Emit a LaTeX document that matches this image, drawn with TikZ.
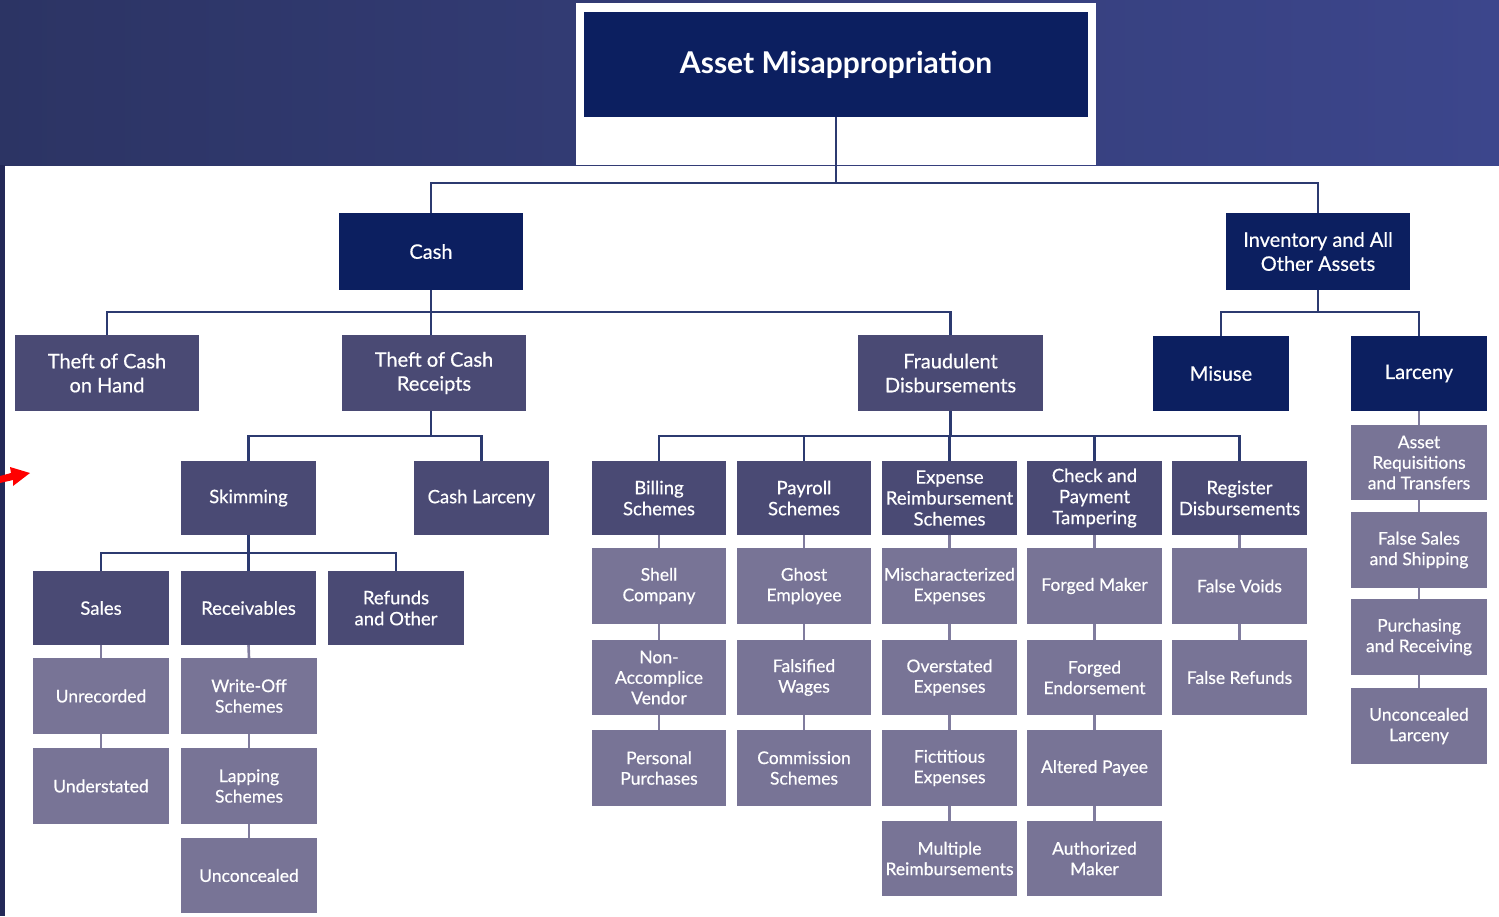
\documentclass[tikz,border=0pt]{standalone}
\usepackage{fontspec}
\setmainfont{Lato}
\newfontfamily\medfont{Lato}[FakeBold=0.5]
\definecolor{navybox}{RGB}{12,31,96}
\definecolor{midbox}{RGB}{74,74,116}
\definecolor{leafbox}{RGB}{120,116,150}
\definecolor{linecol}{RGB}{44,58,112}
\definecolor{leafline}{RGB}{128,124,158}
\definecolor{bandL}{RGB}{44,52,100}
\definecolor{bandR}{RGB}{60,70,140}
\definecolor{strip}{RGB}{35,41,88}
\newcommand\bx[7]{\node[#2, minimum width={(#5-#3)*1pt}, minimum height={(#6-#4)*1pt}] (#1) at ({(#3+#5)/2},{(#4+#6)/2}) {#7};}
\begin{document}
\begin{tikzpicture}[x=1pt,y=-1pt,
  boxbase/.style={rectangle, inner sep=0pt, align=center, text=white},
  topbox/.style={boxbase, fill=navybox, font=\fontsize{30}{34}\selectfont\bfseries},
  navy/.style={boxbase, fill=navybox, font=\medfont\fontsize{20}{24}\selectfont},
  mid/.style={boxbase, fill=midbox, font=\medfont\fontsize{20}{24}\selectfont},
  midt/.style={boxbase, fill=midbox, font=\medfont\fontsize{18.5}{21}\selectfont},
  leaf/.style={boxbase, fill=leafbox, font=\medfont\fontsize{17.5}{20.5}\selectfont},
  conn/.style={draw=linecol, line width=2.4pt},
  lconn/.style={draw=leafline, line width=2.6pt}]
\useasboundingbox (0,0) rectangle (1499,916);
% background
\fill[white] (0,0) rectangle (1499,916);
\shade[left color=bandL, right color=bandR] (0,0) rectangle (1499,165);
\fill[strip] (0,165) rectangle (5,916);
\fill[white] (576,3) rectangle (1096,165);
% boxes
\bx{am}{topbox}{584}{12}{1088}{117}{Asset Misappropriation}
\bx{cash}{navy}{339}{213}{523}{290}{Cash}
\bx{inv}{navy}{1226}{213}{1410}{290}{Inventory and All\\Other Assets}
\bx{tch}{mid}{15}{335}{199}{411}{Theft of Cash\\on Hand}
\bx{tcr}{mid}{342}{335}{526}{411}{Theft of Cash\\Receipts}
\bx{fd}{mid}{858}{335}{1043}{411}{Fraudulent\\Disbursements}
\bx{mis}{navy}{1153}{336}{1289}{411}{Misuse}
\bx{lar}{navy}{1351}{336}{1487}{411}{Larceny}
\bx{skim}{midt}{181}{461}{316}{535}{Skimming}
\bx{clar}{midt}{414}{461}{549}{535}{Cash Larceny}
\bx{sales}{midt}{33}{571}{169}{645}{Sales}
\bx{recv}{midt}{181}{571}{316}{645}{Receivables}
\bx{refo}{midt}{328}{571}{464}{645}{Refunds\\and Other}
\bx{unrec}{leaf}{33}{658}{169}{734}{Unrecorded}
\bx{under}{leaf}{33}{748}{169}{824}{Understated}
\bx{wo}{leaf}{181}{658}{317}{734}{Write-Off\\Schemes}
\bx{lap}{leaf}{181}{748}{317}{824}{Lapping\\Schemes}
\bx{uncon}{leaf}{181}{838}{317}{913}{Unconcealed}
\bx{bill}{midt}{592}{461}{726}{535}{Billing\\Schemes}
\bx{pay}{midt}{737}{461}{871}{535}{Payroll\\Schemes}
\bx{expn}{midt}{882}{461}{1017}{535}{Expense\\Reimbursement\\Schemes}
\bx{chk}{midt}{1027}{461}{1162}{535}{Check and\\Payment\\Tampering}
\bx{reg}{midt}{1172}{461}{1307}{535}{Register\\Disbursements}
\bx{shell}{leaf}{592}{548}{726}{624}{Shell\\Company}
\bx{nav}{leaf}{592}{640}{726}{715}{Non-\\Accomplice\\Vendor}
\bx{pp}{leaf}{592}{730}{726}{806}{Personal\\Purchases}
\bx{ghost}{leaf}{737}{548}{871}{624}{Ghost\\Employee}
\bx{fw}{leaf}{737}{640}{871}{715}{Falsified\\Wages}
\bx{com}{leaf}{737}{730}{871}{806}{Commission\\Schemes}
\bx{misch}{leaf}{882}{548}{1017}{624}{Mischaracterized\\Expenses}
\bx{over}{leaf}{882}{640}{1017}{715}{Overstated\\Expenses}
\bx{fict}{leaf}{882}{730}{1017}{806}{Fictitious\\Expenses}
\bx{mult}{leaf}{882}{821}{1017}{896}{Multiple\\Reimbursements}
\bx{fm}{leaf}{1027}{548}{1162}{624}{Forged Maker}
\bx{fe}{leaf}{1027}{640}{1162}{715}{Forged\\Endorsement}
\bx{ap}{leaf}{1027}{730}{1162}{806}{Altered Payee}
\bx{aum}{leaf}{1027}{821}{1162}{896}{Authorized\\Maker}
\bx{fv}{leaf}{1172}{548}{1307}{624}{False Voids}
\bx{fr}{leaf}{1172}{640}{1307}{715}{False Refunds}
\bx{arq}{leaf}{1351}{425}{1487}{500}{Asset\\Requisitions\\and Transfers}
\bx{fss}{leaf}{1351}{512}{1487}{588}{False Sales\\and Shipping}
\bx{pur}{leaf}{1351}{599}{1487}{675}{Purchasing\\and Receiving}
\bx{ucl}{leaf}{1351}{688}{1487}{764}{Unconcealed\\Larceny}
% tree connectors
\draw[conn] (am.south) -- ++(0,66) coordinate (j1);
\draw[conn] (cash.north) |- (j1) -| (inv.north);
\draw[conn] (cash.south) -- ++(0,22) coordinate (j2);
\draw[conn] (tch.north) |- (j2) -| (fd.north);
\draw[conn] (tcr.north -| j2) -- (j2);
\draw[conn] (inv.south) -- ++(0,22) coordinate (j3);
\draw[conn] (mis.north) |- (j3) -| (lar.north);
\draw[conn] (tcr.south -| j2) -- ++(0,25) coordinate (j4);
\draw[conn] (skim.north) |- (j4) -| (clar.north);
\draw[conn] (skim.south) -- ++(0,18) coordinate (j5);
\draw[conn] (sales.north) |- (j5) -| (refo.north);
\draw[conn] (recv.north) -- (j5);
\draw[conn] (fd.south) -- ++(0,25) coordinate (j6);
\draw[conn] (bill.north) |- (j6) -| (reg.north);
\draw[conn] (pay.north) -- (pay.north |- j6);
\draw[conn] (expn.north) -- (expn.north |- j6);
\draw[conn] (chk.north) -- (chk.north |- j6);
% vertical chains
\draw[lconn] (sales.south) -- (unrec.north);
\draw[lconn] (unrec.south) -- (under.north);
\draw[lconn] (recv.south) -- (wo.north);
\draw[lconn] (wo.south) -- (lap.north);
\draw[lconn] (lap.south) -- (uncon.north);
\draw[lconn] (bill.south) -- (shell.north);
\draw[lconn] (shell.south) -- (nav.north);
\draw[lconn] (nav.south) -- (pp.north);
\draw[lconn] (pay.south) -- (ghost.north);
\draw[lconn] (ghost.south) -- (fw.north);
\draw[lconn] (fw.south) -- (com.north);
\draw[lconn] (expn.south) -- (misch.north);
\draw[lconn] (misch.south) -- (over.north);
\draw[lconn] (over.south) -- (fict.north);
\draw[lconn] (fict.south) -- (mult.north);
\draw[lconn] (chk.south) -- (fm.north);
\draw[lconn] (fm.south) -- (fe.north);
\draw[lconn] (fe.south) -- (ap.north);
\draw[lconn] (ap.south) -- (aum.north);
\draw[lconn] (reg.south) -- (fv.north);
\draw[lconn] (fv.south) -- (fr.north);
\draw[lconn] (lar.south) -- (arq.north);
\draw[lconn] (arq.south) -- (fss.north);
\draw[lconn] (fss.south) -- (pur.north);
\draw[lconn] (pur.south) -- (ucl.north);
% red arrow
\fill[red] (0,476) -- (11,473) -- (10,467) -- (30,473) -- (13,486) -- (13,480) -- (0,483) -- cycle;
\end{tikzpicture}
\end{document}
